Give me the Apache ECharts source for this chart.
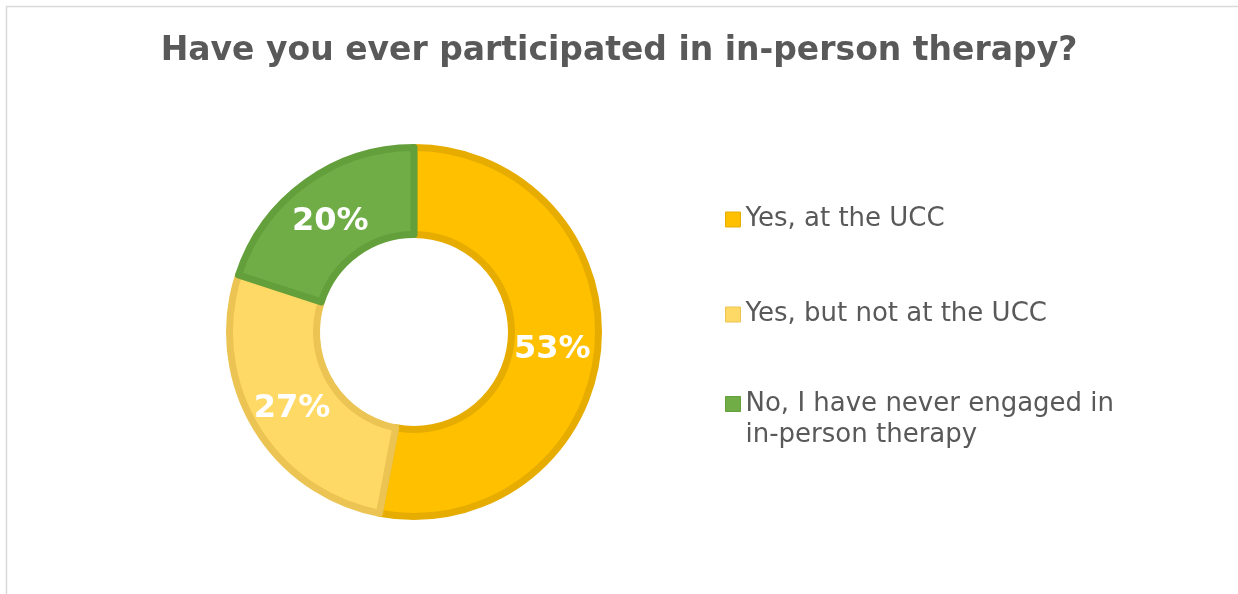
<!DOCTYPE html>
<html>
<head>
<meta charset="utf-8">
<script src="https://cdn.jsdelivr.net/npm/echarts@6/dist/echarts.min.js"></script>
<style>
  html, body { margin: 0; padding: 0; background: #ffffff; }
  #chart { width: 1238px; height: 594px; }
</style>
</head>
<body>
<div id="chart"></div>
<script>
// Survey answers and their shares (percent)
const categories = ['Yes, at the UCC', 'Yes, but not at the UCC', 'No, I have never engaged in in-person therapy'];
const shares = [53, 27, 20];
// Legend wording; a leading empty line keeps the marker level with the first line of a wrapped entry
const legendLabels = ['Yes, at the UCC', 'Yes, but not at the UCC', '\nNo, I have never engaged in\nin-person therapy'];

const fills = ['#FFC000', '#FFD966', '#70AD47'];
const edges = ['#E6AD00', '#EBC453', '#63A03B'];
const labelShift = [[-5, 4], [2, 3], [1, 6]];

const chart = echarts.init(document.getElementById('chart'), null, { renderer: 'canvas' });

const textColor = '#595959';
const legendTops = [204, 299, 357.5];

const legends = categories.map((name, i) => ({
  orient: 'vertical',
  left: 725,
  top: legendTops[i],
  padding: 0,
  icon: 'rect',
  itemWidth: 15,
  itemHeight: 15,
  selectedMode: false,
  data: [name],
  formatter: () => legendLabels[i],
  itemStyle: { borderWidth: 1 },
  textStyle: {
    fontFamily: 'DejaVu Sans',
    fontSize: 26,
    lineHeight: 31,
    color: textColor
  }
}));

chart.setOption({
  animation: false,
  title: {
    text: 'Have you ever participated in in-person therapy?',
    left: 'center',
    top: 35,
    padding: 0,
    textStyle: {
      fontFamily: 'DejaVu Sans',
      fontWeight: 'bold',
      fontSize: 33,
      color: textColor
    }
  },
  legend: legends,
  graphic: [{
    type: 'rect',
    shape: { x: 6.5, y: 6.5, width: 1400, height: 800 },
    style: { fill: 'none', stroke: '#D9D9D9', lineWidth: 1.5 },
    silent: true
  }],
  series: [{
    type: 'pie',
    center: [414, 332],
    radius: [97.5, 184.5],
    startAngle: 90,
    clockwise: true,
    avoidLabelOverlap: false,
    label: {
      show: true,
      position: 'inside',
      formatter: '{c}%',
      color: '#ffffff',
      fontFamily: 'DejaVu Sans',
      fontWeight: 'bold',
      fontSize: 32
    },
    labelLine: { show: false },
    emphasis: { disabled: true },
    data: categories.map((name, i) => ({
      name: name,
      value: shares[i],
      label: { offset: labelShift[i] },
      itemStyle: { color: fills[i], borderColor: edges[i], borderWidth: 7 }
    }))
  }]
});
</script>
</body>
</html>
